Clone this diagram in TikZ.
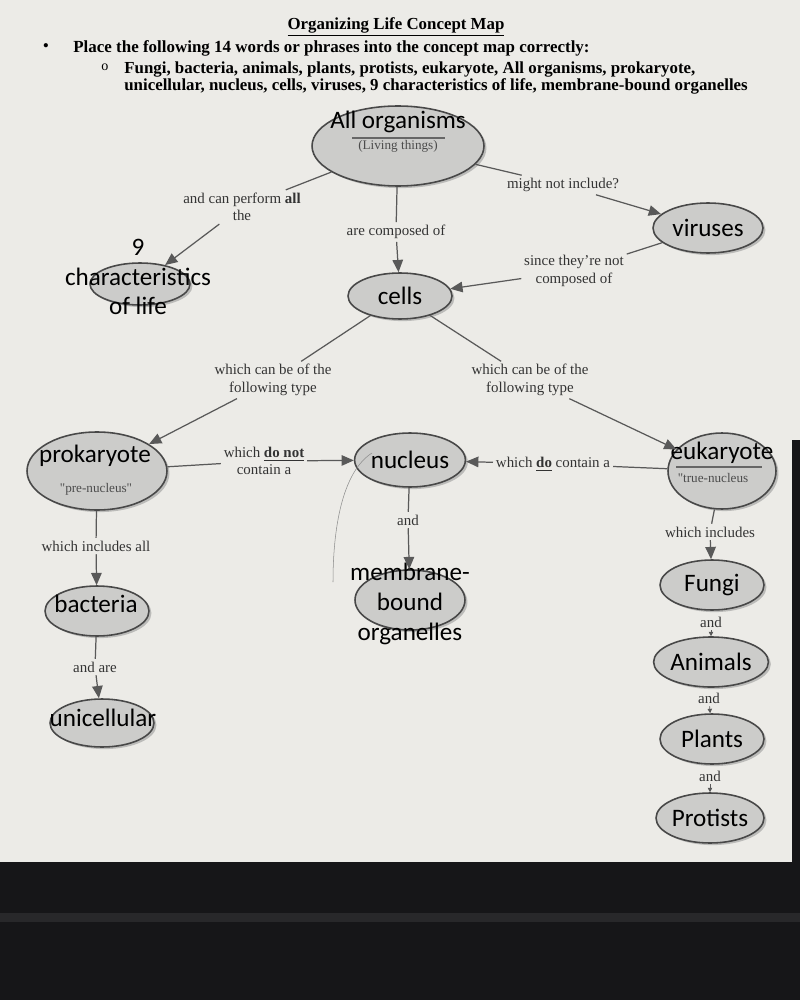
\documentclass[tikz,border=0pt]{standalone}
\usepackage{fontspec}
\setmainfont{Liberation Serif}
\newfontfamily\cali{Carlito}
\usetikzlibrary{positioning,shapes.geometric,arrows.meta,shadows}
\definecolor{paper}{RGB}{236,235,231}
\definecolor{bubbleFill}{RGB}{204,204,202}
\definecolor{bubbleLine}{RGB}{72,72,72}
\definecolor{screenDark}{RGB}{22,22,24}
\definecolor{screenLine}{RGB}{40,40,42}

\begin{document}
\begin{tikzpicture}[x=0.02cm, y=-0.02cm,
    bubble/.style={ellipse, draw=bubbleLine, line width=0.9pt, fill=bubbleFill, inner sep=0pt,
      font=\cali\fontsize{14.3}{17}\selectfont, align=center,
      drop shadow={shadow xshift=1.4pt, shadow yshift=-1.2pt, fill=black!45}},
    word/.style={font=\cali\fontsize{14.3}{17}\selectfont, align=center, inner sep=0pt},
    lbl/.style={font=\fontsize{8.5}{10}\selectfont, text=black!80, align=center, inner sep=1.5pt},
    note/.style={font=\fontsize{7.5}{9}\selectfont, text=black!70, inner sep=0pt},
    link/.style={black!65, line width=0.7pt},
    arrow/.style={link, -{Triangle[length=7pt,width=6pt]}},
    small arrow/.style={link, line width=0.4pt, -{Triangle[length=2.5pt,width=2.5pt]}}
  ]
  \useasboundingbox (0,0) rectangle (800,1000);
  \fill[paper] (0,0) rectangle (800,1000);

  % heading
  \node[font=\bfseries\fontsize{9.6}{11}\selectfont] (title) at (396,27) {\underline{Organizing Life Concept Map}};
  \node[font=\fontsize{10}{11}\selectfont] (dot) at (46,48) {\textbullet};
  \node[anchor=west, inner sep=0pt, font=\bfseries\fontsize{9.65}{11}\selectfont] (task) at (73,48)
    {Place the following 14 words or phrases into the concept map correctly:};
  \node[font=\fontsize{8}{9}\selectfont] (ring) at (105,67) {o};
  \node[anchor=north west, align=left, inner sep=0pt, font=\bfseries\fontsize{9.6}{9.8}\selectfont] (wordlist) at (124,61)
    {Fungi, bacteria, animals, plants, protists, eukaryote, All organisms, prokaryote,\\
     unicellular, nucleus, cells, viruses, 9 characteristics of life, membrane-bound organelles};

  % bubbles
  \node[bubble, minimum width=3.44cm, minimum height=1.6cm] (org) at (398,146) {};
  \node[word] (orgname) at (398,122) {All organisms};
  \draw[black!60, line width=0.6pt] (352,138) -- (445,138);
  \node[note] (orgnote) at (398,146) {(Living things)};

  \node[bubble, minimum width=2.0cm, minimum height=0.84cm] (chars) at (140,284) {};
  \node[word] (charstxt) at (138,277) {9\\characteristics\\of life};

  \node[bubble, minimum width=2.2cm, minimum height=1.0cm] (viruses) at (708,228) {viruses};
  \node[bubble, minimum width=2.08cm, minimum height=0.92cm] (cells) at (400,296) {cells};

  \node[bubble, minimum width=2.8cm, minimum height=1.56cm] (prok) at (97,471) {};
  \node[word] (prokname) at (95,456) {prokaryote};
  \node[note] (proknote) at (96,489) {\textquotedbl pre-nucleus\textquotedbl};

  \node[bubble, minimum width=2.12cm, minimum height=1.08cm] (nuc) at (410,460) {nucleus};

  \node[bubble, minimum width=2.16cm, minimum height=1.52cm] (euk) at (722,471) {};
  \node[word] (eukname) at (722,453) {eukaryote};
  \draw[black!60, line width=0.6pt] (676,467) -- (762,467);
  \node[note] (euknote) at (713,478) {\textquotedbl true-nucleus};

  \node[bubble, minimum width=2.2cm, minimum height=1.2cm] (memb) at (410,600) {};
  \node[word] (membtxt) at (410,604) {membrane-\\bound\\organelles};

  \node[bubble, minimum width=2.08cm, minimum height=1.0cm] (bact) at (97,611) {};
  \node[word] (bacttxt) at (96,604) {bacteria};
  \node[bubble, minimum width=2.08cm, minimum height=0.96cm] (uni) at (102,723) {};
  \node[word] (unitxt) at (103,718) {unicellular};

  \node[bubble, minimum width=2.08cm, minimum height=1.0cm] (fungi) at (712,585) {Fungi};
  \node[bubble, minimum width=2.12cm, minimum height=1.0cm] (animals) at (711,662) {Animals};
  \node[bubble, minimum width=2.08cm, minimum height=1.0cm] (plants) at (712,739) {Plants};
  \node[bubble, minimum width=2.08cm, minimum height=1.0cm] (protists) at (710,818) {Protists};

  % linking phrases
  \node[lbl] (lperform) at (242,207) {and can perform \textbf{all}\\the};
  \node[lbl] (lcomposed) at (396,232) {are composed of};
  \node[lbl] (lmight) at (563,185) {might not include?};
  \node[lbl] (lsince) at (574,271) {since they're not\\composed of};
  \node[lbl] (ltypeA) at (273,380) {which can be of the\\following type};
  \node[lbl] (ltypeB) at (530,380) {which can be of the\\following type};
  \node[lbl] (ldonot) at (264,461) {which \underline{\textbf{do not}}\\contain a};
  \node[lbl] (ldo) at (553,464) {which \underline{\textbf{do}} contain a};
  \node[lbl] (land) at (408,520) {and};
  \node[lbl] (lincall) at (96,546) {which includes all};
  \node[lbl] (lare) at (95,667) {and are};
  \node[lbl] (linc) at (710,532) {which includes};
  \node[lbl] (landA) at (711,622) {and};
  \node[lbl] (landB) at (709,698) {and};
  \node[lbl] (landC) at (710,776) {and};

  % connectors
  \draw[link] (org) -- (lperform);
  \draw[arrow] (lperform) -- (chars);
  \draw[link] (org) -- (lcomposed);
  \draw[arrow] (lcomposed) -- (cells);
  \draw[link] (org) -- (lmight);
  \draw[arrow] (lmight) -- (viruses);
  \draw[link] (viruses) -- (lsince);
  \draw[arrow] (lsince) -- (cells);
  \draw[link] (cells) -- (ltypeA);
  \draw[arrow] (ltypeA) -- (prok);
  \draw[link] (cells) -- (ltypeB);
  \draw[arrow] (ltypeB) -- (euk);
  \draw[link] (prok) -- (ldonot);
  \draw[arrow] (ldonot) -- (nuc);
  \draw[link] (euk) -- (ldo);
  \draw[arrow] (ldo) -- (nuc);
  \draw[link] (nuc) -- (land);
  \draw[arrow] (land) -- (memb);
  \draw[link] (prok) -- (lincall);
  \draw[arrow] (lincall) -- (bact);
  \draw[link] (bact) -- (lare);
  \draw[arrow] (lare) -- (uni);
  \draw[link] (euk) -- (linc);
  \draw[arrow] (linc) -- (fungi);
  \draw[small arrow] (landA) -- (animals);
  \draw[small arrow] (landB) -- (plants);
  \draw[small arrow] (landC) -- (protists);

  % stray pen mark
  \coordinate (strayA) at (372,453);
  \coordinate (strayB) at (333,582);
  \draw[black!45, line width=0.3pt] (strayA) .. controls (345,470) and (333,520) .. (strayB);

  % screen edge
  \fill[screenDark] (0,862) rectangle (800,1000);
  \fill[screenLine] (0,913) rectangle (800,922);
  \fill[screenDark] (792,440) rectangle (800,862);
\end{tikzpicture}
\end{document}
